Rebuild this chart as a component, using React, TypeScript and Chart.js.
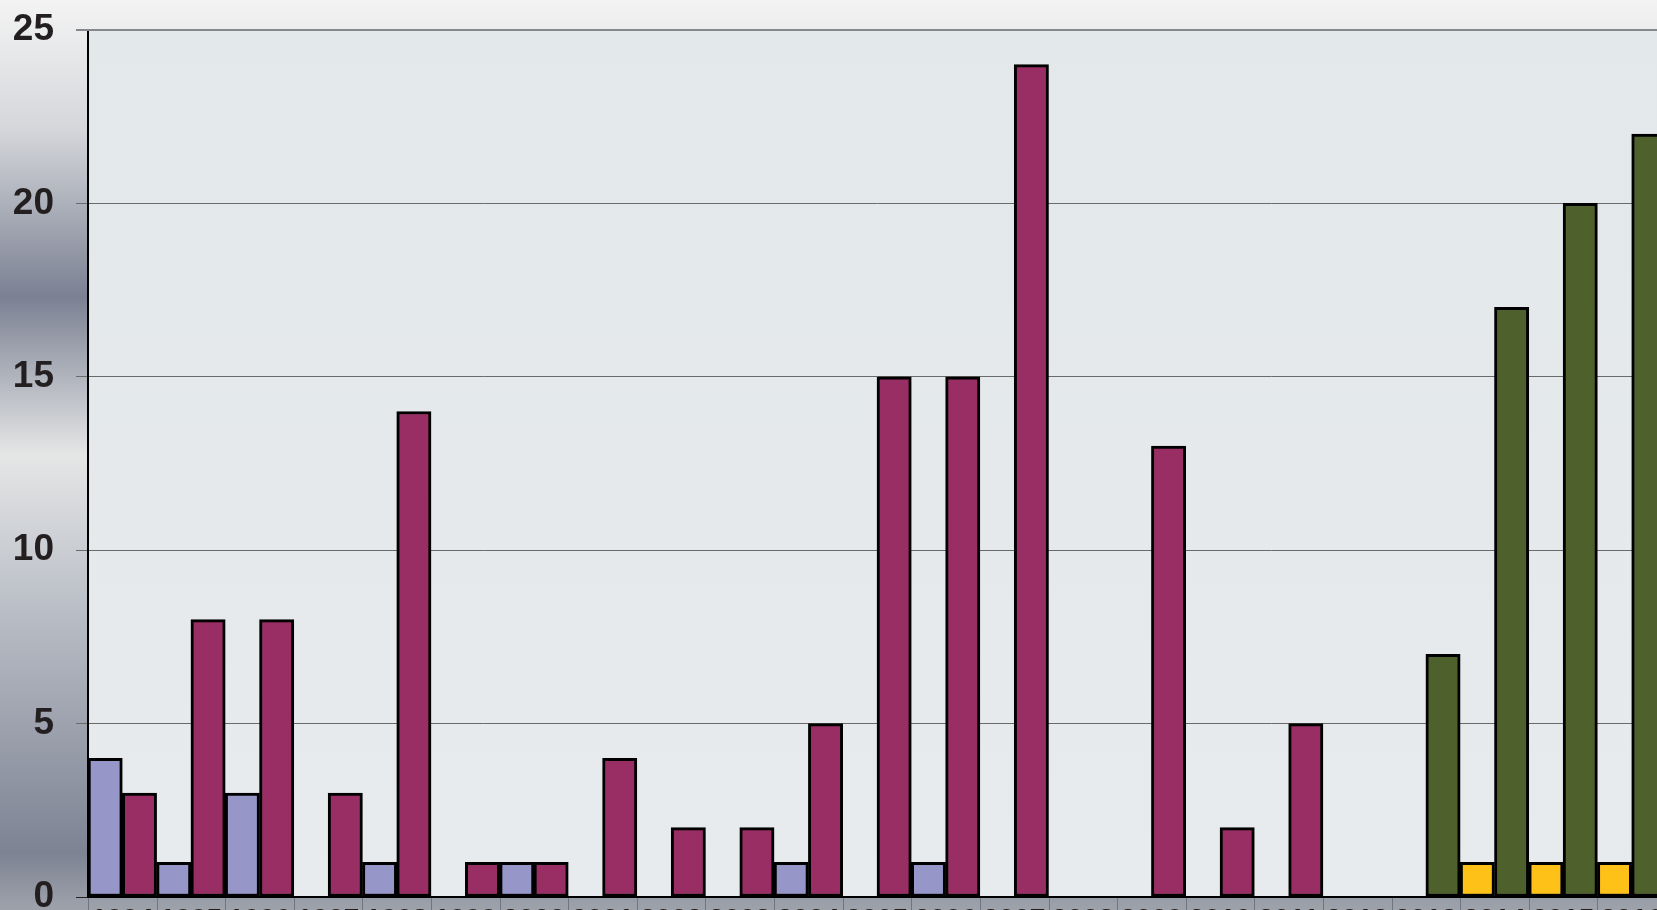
import React, { useEffect, useRef } from 'react';
import { Chart, registerables } from 'chart.js';

Chart.register(...registerables);

const years = ['1994','1995','1996','1997','1998','1999','2000','2001','2002','2003','2004','2005','2006','2007','2008','2009','2010','2011','2012','2013','2014','2015','2016'];
const seriesLavender = [4,1,3,null,1,null,1,null,null,null,1,null,1,null,null,null,null,null,null,null,null,null,null];
const seriesPlum = [3,8,8,3,14,1,1,4,2,2,5,15,15,24,null,13,2,5,null,null,null,null,null];
const seriesGold = [null,null,null,null,null,null,null,null,null,null,null,null,null,null,null,null,null,null,null,null,1,1,1];
const seriesOlive = [null,null,null,null,null,null,null,null,null,null,null,null,null,null,null,null,null,null,null,7,17,20,22];
const yMin = 0;
const yMax = 25;
const yStep = 5;

const W = 1690;
const H = 950;
const PLOT_LEFT = 88;
const PLOT_TOP = 30;
const PLOT_RIGHT = 1666;
const PLOT_BOTTOM = 897;

const bgPlugin = {
  id: 'bgPlugin',
  beforeDraw(chart: any) {
    const { ctx, chartArea } = chart;
    const g = ctx.createLinearGradient(0, 0, 0, chart.height);
    const h = chart.height;
    const stop = (y: number, c: string) => g.addColorStop(Math.min(1, y / h), c);
    stop(0, '#f3f3f3');
    stop(40, '#eaebec');
    stop(130, '#d4d6da');
    stop(297, '#7b8193');
    stop(455, '#e5e6e6');
    stop(600, '#bcc0c8');
    stop(853, '#7d8393');
    stop(905, '#9ca0a9');
    stop(950, '#a8abb3');
    ctx.save();
    ctx.fillStyle = g;
    ctx.fillRect(0, 0, chart.width, chart.height);
    const pg = ctx.createLinearGradient(0, chartArea.top, 0, chartArea.bottom);
    pg.addColorStop(0, '#e3e8eb');
    pg.addColorStop(0.5, '#e5e9ec');
    pg.addColorStop(1, '#e7ebee');
    ctx.fillStyle = pg;
    ctx.fillRect(chartArea.left, chartArea.top, chartArea.right - chartArea.left, chartArea.bottom - chartArea.top);
    ctx.restore();
  },
  afterDraw(chart: any) {
    const { ctx, chartArea } = chart;
    const xs = chart.scales.x;
    const step = xs.getPixelForValue(1) - xs.getPixelForValue(0);
    ctx.save();
    ctx.strokeStyle = '#6f7480';
    ctx.lineWidth = 1;
    for (let i = 0; i <= years.length; i++) {
      const px = i < years.length ? xs.getPixelForValue(i) - step / 2 : xs.getPixelForValue(i - 1) + step / 2;
      const x = Math.round(px) + 0.5;
      ctx.beginPath();
      ctx.moveTo(x, chartArea.bottom + 1);
      ctx.lineTo(x, chart.height);
      ctx.stroke();
    }
    ctx.strokeStyle = '#86878a';
    ctx.lineWidth = 2;
    ctx.beginPath();
    ctx.moveTo(chartArea.left - 12, chartArea.top);
    ctx.lineTo(chart.width, chartArea.top);
    ctx.stroke();
    ctx.restore();
  },
};

export default function App() {
  const ref = useRef<HTMLCanvasElement | null>(null);
  useEffect(() => {
    if (!ref.current) return;
    const common = { borderColor: '#000000', borderWidth: 3, borderSkipped: false, categoryPercentage: 1, barPercentage: 1 };
    const chart = new Chart(ref.current, {
      type: 'bar',
      data: {
        labels: years,
        datasets: [
          { label: 'A', data: seriesLavender, backgroundColor: '#9696c9', stack: 'left', ...common },
          { label: 'C', data: seriesGold, backgroundColor: '#fdc117', stack: 'left', ...common },
          { label: 'B', data: seriesPlum, backgroundColor: '#982e63', stack: 'right', ...common },
          { label: 'D', data: seriesOlive, backgroundColor: '#4e612c', stack: 'right', ...common },
        ] as any,
      },
      options: {
        animation: false,
        responsive: false,
        devicePixelRatio: 1,
        layout: { padding: { left: 0, top: PLOT_TOP, right: W - PLOT_RIGHT, bottom: 0 } },
        plugins: { legend: { display: false }, tooltip: { enabled: false }, title: { display: false } },
        scales: {
          x: {
            offset: true,
            grid: { display: false, drawOnChartArea: false },
            border: { display: true, color: '#000000', width: 2 },
            ticks: {
              padding: -2,
              autoSkip: false,
              maxRotation: 0,
              color: '#231f20',
              font: { family: '"Liberation Sans", Arial, sans-serif', size: 28, weight: 'bold' },
            },
            afterFit(scale: any) {
              scale.height = H - PLOT_BOTTOM;
              scale.paddingLeft = 0; scale.paddingRight = 0; scale.paddingTop = 0; scale.paddingBottom = 0;
            },
          },
          y: {
            stacked: true,
            min: yMin,
            max: yMax,
            ticks: {
              stepSize: yStep,
              padding: 22,
              color: '#231f20',
              font: { family: '"Liberation Sans", Arial, sans-serif', size: 37, weight: 'bold' },
            },
            grid: {
              color: (c: any) => (c.tick && c.tick.value === 0 ? '#222222' : '#6a6a6a'),
              lineWidth: 1,
              tickLength: 12,
            },
            border: { display: true, color: '#000000', width: 2 },
            afterFit(scale: any) {
              scale.width = PLOT_LEFT;
              scale.paddingTop = 0; scale.paddingBottom = 0; scale.paddingLeft = 0; scale.paddingRight = 0;
            },
          },
        },
      } as any,
      plugins: [bgPlugin],
    });
    return () => chart.destroy();
  }, []);
  return (
    <div style={{ position: 'fixed', left: 0, top: 0, width: '100vw', height: '100vh', overflow: 'hidden' }}>
      <canvas ref={ref} width={W} height={H} style={{ display: 'block', width: W, height: H }} />
    </div>
  );
}
